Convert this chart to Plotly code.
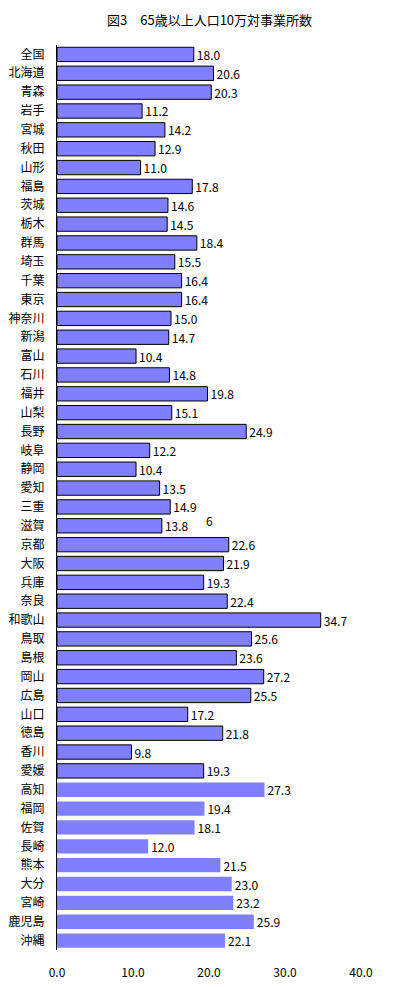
import plotly.graph_objects as go

# 都道府県 (top to bottom)
prefectures = [
    "全国", "北海道", "青森", "岩手", "宮城", "秋田", "山形", "福島", "茨城", "栃木",
    "群馬", "埼玉", "千葉", "東京", "神奈川", "新潟", "富山", "石川", "福井", "山梨",
    "長野", "岐阜", "静岡", "愛知", "三重", "滋賀", "京都", "大阪", "兵庫", "奈良",
    "和歌山", "鳥取", "島根", "岡山", "広島", "山口", "徳島", "香川", "愛媛", "高知",
    "福岡", "佐賀", "長崎", "熊本", "大分", "宮崎", "鹿児島", "沖縄",
]
values = [
    18.0, 20.6, 20.3, 11.2, 14.2, 12.9, 11.0, 17.8, 14.6, 14.5,
    18.4, 15.5, 16.4, 16.4, 15.0, 14.7, 10.4, 14.8, 19.8, 15.1,
    24.9, 12.2, 10.4, 13.5, 14.9, 13.8, 22.6, 21.9, 19.3, 22.4,
    34.7, 25.6, 23.6, 27.2, 25.5, 17.2, 21.8, 9.8, 19.3, 27.3,
    19.4, 18.1, 12.0, 21.5, 23.0, 23.2, 25.9, 22.1,
]
x_ticks = [0, 10, 20, 30, 40]

# bars after 愛媛 are drawn without an outline in the original
outlined = prefectures.index("愛媛") + 1
line_widths = [1 if i < outlined else 0 for i in range(len(values))]

font = "Noto Sans CJK JP, Noto Sans, sans-serif"

fig = go.Figure(
    go.Bar(
        x=values,
        y=prefectures,
        orientation="h",
        marker=dict(color="#8080ff", line=dict(color="black", width=line_widths)),
        text=[f"{v:.1f}" for v in values],
        textposition="outside",
        constraintext="none",
        textfont=dict(color="black", size=12, family=font),
        cliponaxis=False,
        hoverinfo="x+y",
    )
)

# stray label in the original chart
fig.add_annotation(
    x=20.1, y="滋賀", xref="x", yref="y", text="6", showarrow=False,
    yshift=5, font=dict(size=12, color="black", family=font),
)

# title as a paper annotation so it sits clear of the top edge
fig.add_annotation(
    x=0.5, y=1, xref="paper", yref="paper", yanchor="bottom",
    text="図3　65歳以上人口10万対事業所数", showarrow=False, yshift=14,
    font=dict(size=13, color="black", family=font),
)

# page body has an 8px default margin, so the figure is a bit smaller
fig.update_layout(
    width=388,
    height=971,
    margin=dict(l=49, r=35, t=37, b=29, autoexpand=False),
    plot_bgcolor="white",
    paper_bgcolor="white",
    bargap=0.24,
    showlegend=False,
    font=dict(family=font, size=12, color="black"),
)
fig.update_xaxes(
    range=[0, 40],
    tickvals=x_ticks,
    tickformat=".1f",
    showgrid=False,
    zeroline=False,
    showline=False,
    ticks="",
    automargin=False,
    ticklabelstandoff=14,
    tickfont=dict(size=12, color="black"),
)
fig.update_yaxes(
    autorange="reversed",
    showline=True,
    linecolor="black",
    linewidth=1,
    showgrid=False,
    ticks="",
    automargin=False,
    ticklabelstandoff=9,
    tickfont=dict(size=12, color="black"),
)

fig.write_html("out.html")
